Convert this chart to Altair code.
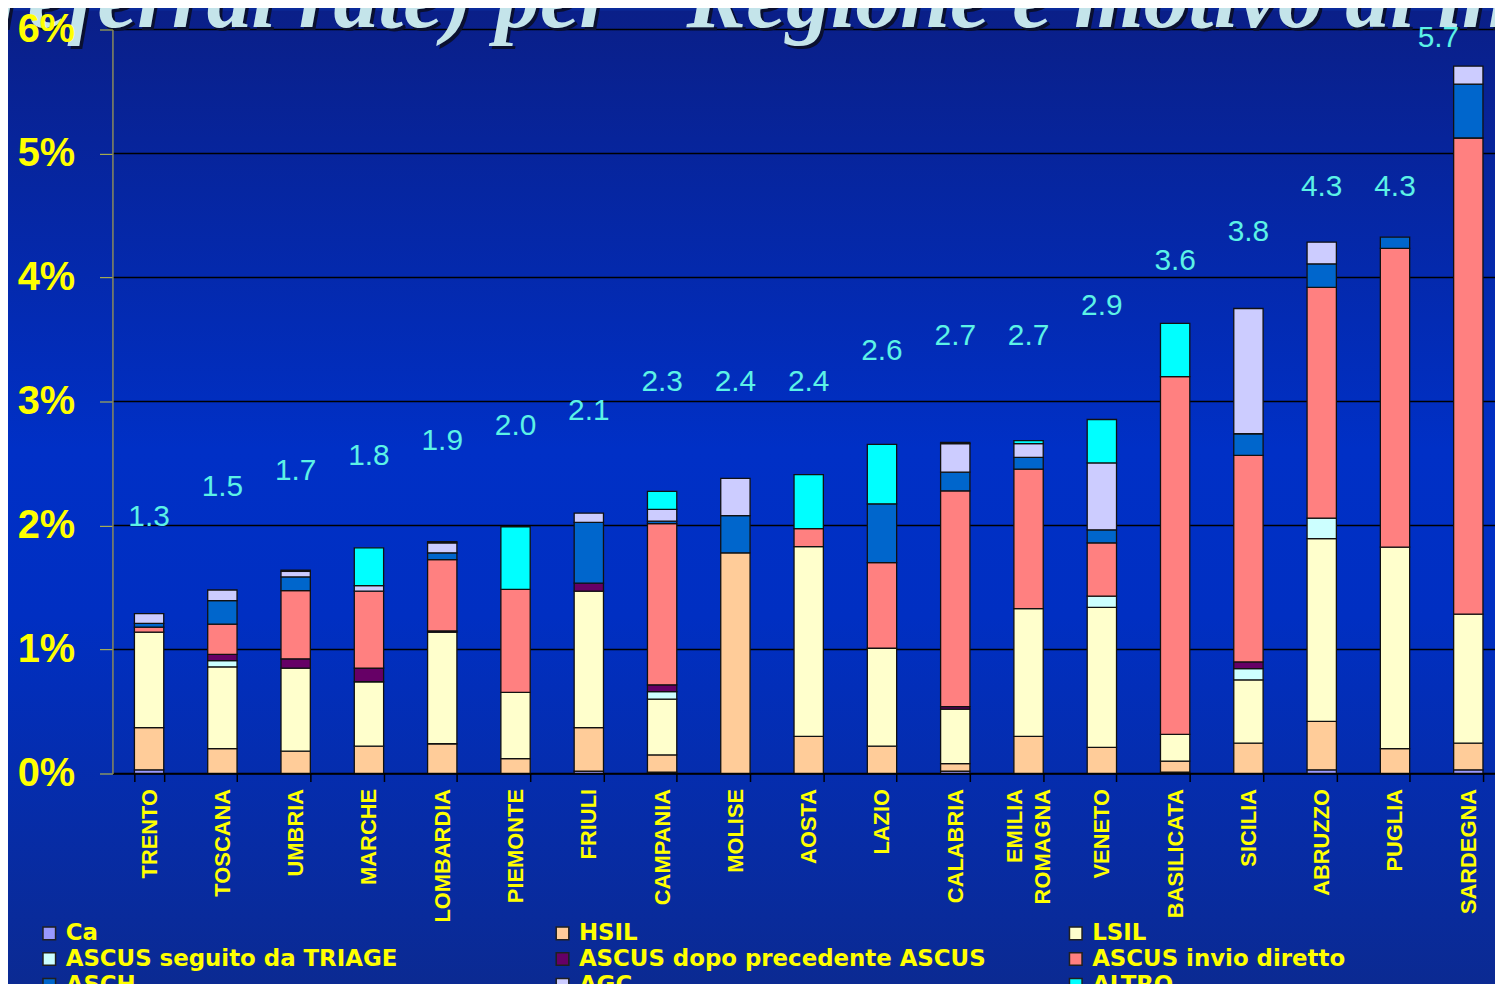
import altair as alt
import pandas as pd

regioni = ["TRENTO", "TOSCANA", "UMBRIA", "MARCHE", "LOMBARDIA", "PIEMONTE", "FRIULI",
           "CAMPANIA", "MOLISE", "AOSTA", "LAZIO", "CALABRIA", "EMILIA ROMAGNA", "VENETO",
           "BASILICATA", "SICILIA", "ABRUZZO", "PUGLIA", "SARDEGNA"]

motivi = ["Ca", "HSIL", "LSIL", "ASCUS seguito da TRIAGE", "ASCUS dopo precedente ASCUS",
          "ASCUS invio diretto", "ASCH", "AGC", "ALTRO"]
colori = ["#9999ff", "#ffcc99", "#ffffcc", "#ccffff", "#660066",
          "#ff8080", "#0066cc", "#ccccff", "#00ffff"]

# values in percent, per region (bottom to top of each stacked bar)
ca = [0.03, 0, 0, 0, 0, 0, 0.02, 0.01, 0, 0, 0, 0.02, 0, 0, 0.01, 0, 0.03, 0, 0.03]
hsil = [0.34, 0.20, 0.18, 0.22, 0.24, 0.12, 0.35, 0.14, 1.78, 0.30, 0.22, 0.06, 0.30, 0.21, 0.09, 0.245, 0.39, 0.20, 0.215]
lsil = [0.77, 0.66, 0.67, 0.52, 0.90, 0.535, 1.10, 0.45, 0, 1.53, 0.79, 0.44, 1.03, 1.13, 0.215, 0.51, 1.475, 1.625, 1.04]
triage = [0, 0.05, 0, 0, 0, 0, 0, 0.06, 0, 0, 0, 0, 0, 0.09, 0, 0.09, 0.165, 0, 0]
dopo = [0, 0.05, 0.075, 0.11, 0.01, 0, 0.065, 0.055, 0, 0, 0, 0.02, 0, 0, 0, 0.055, 0, 0, 0]
invio = [0.04, 0.245, 0.55, 0.62, 0.575, 0.83, 0, 1.30, 0, 0.145, 0.69, 1.74, 1.125, 0.43, 2.885, 1.665, 1.86, 2.41, 3.84]
asch = [0.03, 0.19, 0.11, 0, 0.055, 0, 0.49, 0.02, 0.30, 0, 0.475, 0.15, 0.095, 0.105, 0, 0.175, 0.19, 0.09, 0.435]
agc = [0.08, 0.085, 0.045, 0.045, 0.08, 0, 0.075, 0.095, 0.30, 0, 0, 0.23, 0.11, 0.54, 0, 1.01, 0.175, 0, 0.145]
altro = [0, 0, 0.01, 0.305, 0.01, 0.505, 0, 0.145, 0, 0.435, 0.48, 0.01, 0.025, 0.35, 0.43, 0, 0, 0, 0]

totali_txt = ["1.3", "1.5", "1.7", "1.8", "1.9", "2.0", "2.1", "2.3", "2.4", "2.4",
              "2.6", "2.7", "2.7", "2.9", "3.6", "3.8", "4.3", "4.3", "5.7"]
# height (in %) at which each total label sits in the original
livello_etichetta = [2.07, 2.31, 2.44, 2.56, 2.68, 2.80, 2.92, 3.16, 3.16, 3.16,
                     3.41, 3.53, 3.53, 3.77, 4.13, 4.37, 4.73, 4.73, 5.93]

griglia = [0, 1, 2, 3, 4, 5, 6]

serie = [ca, hsil, lsil, triage, dopo, invio, asch, agc, altro]

rows = []
for i, (m, vals) in enumerate(zip(motivi, serie)):
    for r, v in zip(regioni, vals):
        rows.append({"regione": r, "motivo": m, "ordine": i, "valore": v})
df = pd.DataFrame(rows)
df_lab = pd.DataFrame({"regione": regioni, "testo": totali_txt, "livello": livello_etichetta})
df_grid = pd.DataFrame({"livello": griglia})
one = pd.DataFrame({"k": [0]})

W, H = 1390, 748
YELLOW = "#ffff00"

x_scale = alt.Scale(domain=regioni, range=[0, 1400], paddingInner=0.6, paddingOuter=0.3)
x_axis = alt.Axis(title=None, labelAngle=270, labelFont="Liberation Sans", labelFontWeight="bold",
                  labelFontSize=22, labelColor=YELLOW, labelPadding=7, labelOverlap=False,
                  labelExpr="split(datum.label, ' ')", labelLineHeight=28,
                  labelOffset={"condition": {"test": "datum.value == 'EMILIA ROMAGNA'", "value": -14},
                               "value": 0},
                  tickColor="black", tickSize=8, tickWidth=1.5, tickBand="extent",
                  domainColor="black", domainWidth=1.5, grid=False, labelLimit=300, zindex=1)
y_scale = alt.Scale(domain=[0, 6], nice=False)
y_axis = alt.Axis(title=None, values=griglia, labelExpr="datum.value + '%'",
                  labelFont="Liberation Sans", labelFontWeight="bold", labelFontSize=40,
                  labelColor=YELLOW, labelPadding=25, tickColor="#c8c840", tickSize=13,
                  domainColor="#8a8a5a", domainWidth=1.5, grid=False, zindex=1)

sfondo = alt.Chart(one).mark_rect(
    color=alt.Gradient(gradient="linear", x1=0, x2=0, y1=0, y2=1,
                       stops=[alt.GradientStop(color="#0a1f88", offset=0),
                              alt.GradientStop(color="#0030c6", offset=0.45),
                              alt.GradientStop(color="#002fc2", offset=0.62),
                              alt.GradientStop(color="#0b2a92", offset=1)])
).encode(x=alt.value(-105), x2=alt.value(1400), y=alt.value(-19), y2=alt.value(H + 215))

linee = alt.Chart(df_grid).mark_rule(color="black", strokeWidth=1.3).encode(
    y=alt.Y("livello:Q", scale=y_scale, axis=y_axis)
)

titolo_txt = '(referral rate) per "Regione e motivo di invio"'
titolo_ombra = alt.Chart(one).mark_text(
    text=titolo_txt, font="Liberation Serif", fontStyle="italic", fontWeight="bold",
    fontSize=90, color="#0a1030", align="left", baseline="alphabetic"
).encode(x=alt.value(-147), y=alt.value(0))
titolo = alt.Chart(one).mark_text(
    text=titolo_txt, font="Liberation Serif", fontStyle="italic", fontWeight="bold",
    fontSize=90, color="#c4e4ea", align="left", baseline="alphabetic"
).encode(x=alt.value(-150), y=alt.value(-3))

barre = alt.Chart(df).transform_filter("datum.valore > 0").mark_bar(
    stroke="#111111", strokeWidth=1.3
).encode(
    x=alt.X("regione:N", sort=regioni, scale=x_scale, axis=x_axis),
    y=alt.Y("valore:Q", stack="zero", scale=y_scale, axis=y_axis),
    order=alt.Order("ordine:Q", sort="ascending"),
    color=alt.Color("motivo:N", scale=alt.Scale(domain=motivi, range=colori),
                    legend=alt.Legend(title=None, orient="none", legendX=-75, legendY=897,
                                      direction="horizontal", columns=3, gridAlign="all",
                                      columnPadding=78, rowPadding=2,
                                      symbolType="square", symbolSize=160,
                                      symbolStrokeColor="#202020", symbolStrokeWidth=1.5,
                                      symbolOpacity=1, labelFont="DejaVu Sans",
                                      labelFontWeight="bold", labelFontSize=23,
                                      labelColor=YELLOW, labelOffset=5, labelLimit=600)),
)

etichette_base = alt.Chart(df_lab).encode(
    x=alt.X("regione:N", sort=regioni, scale=x_scale, axis=x_axis),
    y=alt.Y("livello:Q", scale=y_scale, axis=y_axis),
    text="testo:N",
)
etichette = etichette_base.transform_filter("datum.regione != 'SARDEGNA'").mark_text(
    font="Liberation Sans", fontSize=30, color="#5cf2e6", baseline="middle", align="center"
)
etichetta_ultima = etichette_base.transform_filter("datum.regione == 'SARDEGNA'").mark_text(
    font="Liberation Sans", fontSize=30, color="#5cf2e6", baseline="middle", align="center", dx=-30
)

chart = alt.layer(sfondo, linee, barre, titolo_ombra, titolo, etichette, etichetta_ultima).properties(
    width=W, height=H,
    autosize=alt.AutoSizeParams(type="none"),
    padding={"left": 105, "top": 19, "right": 0, "bottom": 209},
    background="#0a2a9a",
).configure_view(stroke=None)

chart.save("out.html", embed_options={"renderer": "svg", "actions": False})
